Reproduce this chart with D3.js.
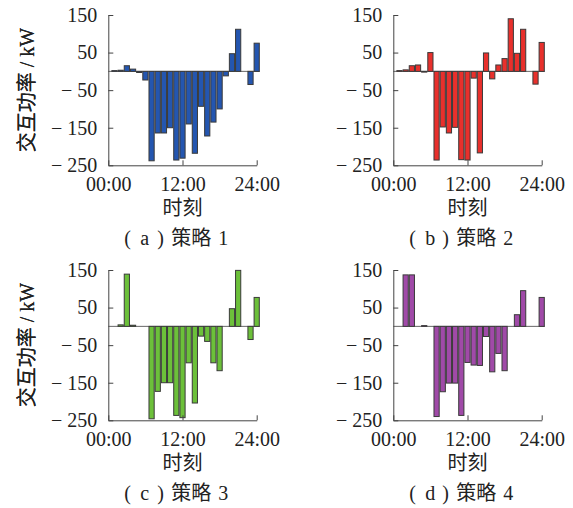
<!DOCTYPE html>
<html><head><meta charset="utf-8">
<script src="https://cdn.jsdelivr.net/npm/d3@7"></script>
<style>
body{margin:0;background:#fff;}
text{font-family:"Liberation Serif","Noto Sans CJK SC",serif;fill:#222;}
</style>
</head><body>
<svg id="c" width="573" height="508"></svg>
<script>
const hours = d3.range(1, 25);
const strategy1 = [2,3,15,6,-3,-23,-238,-164,-164,-150,-236,-231,-140,-218,-93,-172,-135,-100,-12,47,112,0,-35,75];
const strategy2 = [2,4,15,17,-2,50,-236,-148,-164,-149,-235,-236,-18,-217,49,-20,17,34,140,48,112,0,-34,77];
const strategy3 = [0,4,139,3,0,0,-246,-173,-150,-150,-237,-243,-97,-204,-26,-40,-97,-118,0,47,149,0,-35,77];
const strategy4 = [0,137,137,0,2,0,-240,-174,-151,-151,-237,-96,-103,-104,-27,-121,-72,-118,0,31,95,0,0,77];
const yTicks = [150,50,-50,-150,-250];
const xTicks = [0,12,24];
const xTickLabels = ["00:00","12:00","24:00"];
const captionLetters = ["a","b","c","d"];
const captionNumbers = ["1","2","3","4"];
const captionWord = "策略";
const colors = ["#2456b0","#e8302c","#6cc03a","#a04aa8"];
const series = [strategy1,strategy2,strategy3,strategy4];
const yLabel = "交互功率 / kW";
const xLabel = "时刻";

const svg = d3.select("#c");
const W = 148.4, H = 150.3;
const origins = [[108.3,15],[393.3,15],[108.3,270],[393.3,270]];
const x = d3.scaleLinear().domain([0,24]).range([0,W]);
const y = d3.scaleLinear().domain([-250,150]).range([H,0]);
const bw = 5.2;
const axisColor = "#444";

function fmt(v){ return v < 0 ? "\u2212 " + Math.abs(v) : String(v); }

series.forEach((vals, k) => {
  const [ox, oy] = origins[k];
  const g = svg.append("g").attr("transform", `translate(${ox},${oy})`);

  // zero line
  g.append("line").attr("x1", 0).attr("x2", x(24) + 3)
    .attr("y1", y(0)).attr("y2", y(0)).attr("stroke", "#666").attr("stroke-width", 1);

  // bars
  g.selectAll("rect.bar").data(hours).join("rect").attr("class","bar")
    .attr("x", d => x(d) - bw/2)
    .attr("width", bw)
    .attr("y", (d,i) => y(Math.max(0, vals[i])))
    .attr("height", (d,i) => Math.abs(y(vals[i]) - y(0)))
    .attr("fill", colors[k])
    .attr("stroke", "#3a3a3a").attr("stroke-width", 1);

  // y axis
  const ya = g.append("g").call(d3.axisLeft(y).tickValues(yTicks).tickFormat(fmt)
      .tickSizeInner(-5).tickSizeOuter(0).tickPadding(11));
  ya.select(".domain").attr("stroke", axisColor);
  ya.selectAll(".tick line").attr("stroke", axisColor);
  ya.selectAll(".tick text").attr("font-size", "20px").attr("fill", "#222")
    .attr("font-family", "Liberation Serif");

  // x axis
  const xa = g.append("g").attr("transform", `translate(0,${H})`)
    .call(d3.axisBottom(x).tickValues(xTicks).tickFormat((d,i) => xTickLabels[i])
      .tickSizeInner(-5).tickSizeOuter(0).tickPadding(12));
  xa.select(".domain").attr("stroke", axisColor);
  xa.selectAll(".tick line").attr("stroke", axisColor);
  xa.selectAll(".tick text").attr("font-size", "20px").attr("fill", "#222")
    .attr("font-family", "Liberation Serif");

  // y label
  g.append("text").attr("transform", `translate(${-ox + 34},${H/2}) rotate(-90)`)
    .attr("text-anchor", "middle").attr("font-size", "20px").text(yLabel);

  // x label
  g.append("text").attr("x", W/2).attr("y", H + 50).attr("text-anchor", "middle")
    .attr("font-size", "20px").text(xLabel);

  // caption
  const cy = H + 80;
  const cap = g.append("text").attr("y", cy).attr("font-size", "20px");
  cap.append("tspan").attr("x", 16).text("(");
  cap.append("tspan").attr("x", 32).text(captionLetters[k]);
  cap.append("tspan").attr("x", 49).text(")");
  cap.append("tspan").attr("x", 63).text(captionWord);
  cap.append("tspan").attr("x", 110).text(captionNumbers[k]);
});
</script>
</body></html>
